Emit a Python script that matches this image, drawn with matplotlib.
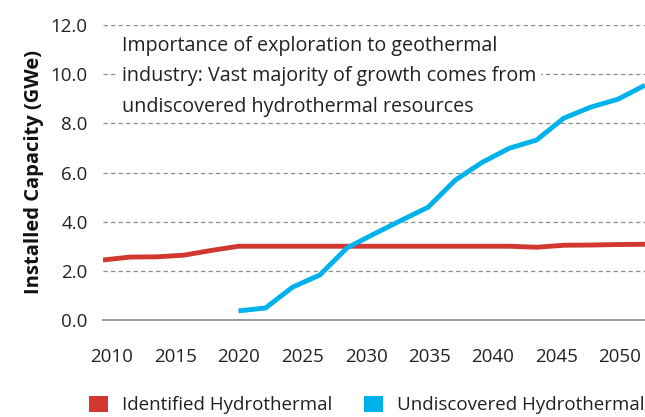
import numpy as np
import matplotlib
matplotlib.use("Agg")
import matplotlib.pyplot as plt
from matplotlib.patches import Patch

plt.rcParams['font.family'] = ['Open Sans', 'DejaVu Sans']

# data, one point every 2 years
years = np.arange(2010, 2051, 2)
identified = [2.44, 2.56, 2.57, 2.64, 2.83, 3.0, 3.0, 3.0, 3.0, 3.0, 3.0,
              3.0, 3.0, 3.0, 3.0, 3.0, 2.96, 3.04, 3.05, 3.07, 3.08]
undisc_years = np.arange(2020, 2051, 2)
undiscovered = [0.37, 0.49, 1.34, 1.83, 2.93, 3.5, 4.05, 4.59, 5.69, 6.42,
                6.99, 7.32, 8.21, 8.66, 8.98, 9.55]
tick_labels = ['2010', '2015', '2020', '2025', '2030', '2035', '2040', '2045', '2050']
yticks = [0, 2, 4, 6, 8, 10, 12]

red = '#d1382f'
blue = '#00b2ec'

fig = plt.figure(figsize=(6.45, 4.17), dpi=100)
ax = fig.add_axes([103/645, 97/417, 542/645, 295/417])

ax.plot(years, identified, color=red, lw=3.5, solid_capstyle='butt', zorder=3)
ax.plot(undisc_years, undiscovered, color=blue, lw=3.5, solid_capstyle='butt', zorder=4)

ax.set_xlim(2010, 2050)
ax.set_ylim(0, 12)
ax.set_yticks(yticks)
ax.set_yticklabels([f'{v:.1f}' for v in yticks])
# the labels in the source sit on a slightly shorter spacing than the data
tick_pos = 2010 + (9 + np.arange(9) * 63.5) / 13.55
ax.set_xticks(tick_pos)
ax.set_xticklabels(tick_labels)
ax.tick_params(axis='both', length=0, labelsize=13.5, colors='#222222')
ax.tick_params(axis='x', pad=20)
ax.tick_params(axis='y', pad=11)

for v in yticks[1:]:
    ax.axhline(v, color='#8c8c8c', lw=0.9, ls=(0, (3.5, 2.5)), zorder=1)

for s in ['top', 'right', 'left']:
    ax.spines[s].set_visible(False)
ax.spines['bottom'].set_color('#9a9a9a')
ax.spines['bottom'].set_linewidth(1.4)

ax.set_ylabel('Installed Capacity (GWe)', fontsize=14.5, fontweight='bold',
              color='#111111', labelpad=5)

ax.text(122/645, 1 - 36/417,
        'Importance of exploration to geothermal\n'
        'industry: Vast majority of growth comes from\n'
        'undiscovered hydrothermal resources',
        transform=fig.transFigure, ha='left', va='top', fontsize=14.2,
        linespacing=1.7, color='#222222', zorder=5,
        bbox=dict(facecolor='white', edgecolor='none', pad=3))

handles = [Patch(facecolor=red, label='Identified Hydrothermal'),
           Patch(facecolor=blue, label='Undiscovered Hydrothermal')]
fig.legend(handles=handles, loc='center', bbox_to_anchor=(367/645, 12/417),
           ncol=2, frameon=False, fontsize=13.5, handlelength=1.0,
           handleheight=1.0, handletextpad=0.75, columnspacing=1.7,
           labelcolor='#222222')

fig.savefig('out.png', dpi=100)
